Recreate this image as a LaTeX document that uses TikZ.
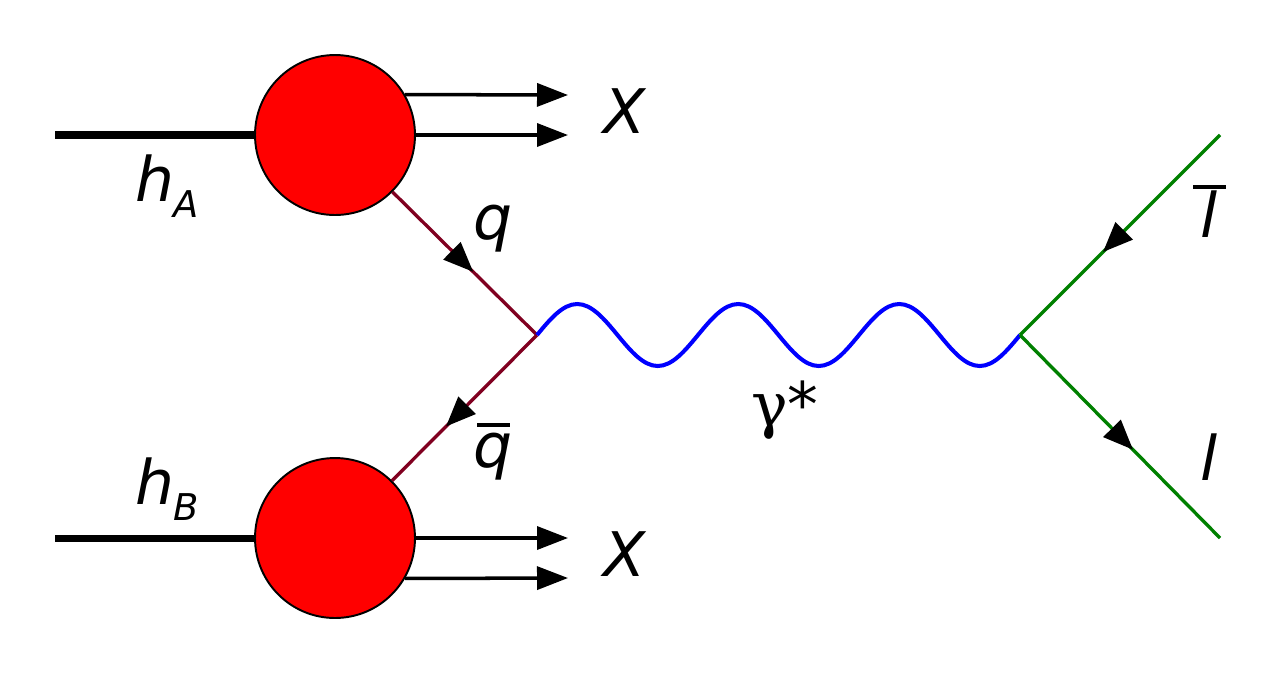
\documentclass[tikz,border=0pt]{standalone}
\usepackage{fontspec}
\setmainfont{DejaVu Sans}
\newfontfamily\gfont{DejaVu Serif}
\usetikzlibrary{arrows.meta,decorations.markings}
\definecolor{quarkred}{RGB}{128,0,32}
\definecolor{leptongreen}{RGB}{0,128,0}
\newcommand\barredtext[2]{\leavevmode\rlap{\raisebox{#1}{\rule{0.66cm}{0.08cm}}}\hbox to 0.66cm{\hss#2\hss}}
\begin{document}
\begin{tikzpicture}[x=0.02cm,y=-0.02cm,
  blob/.style={circle,draw=black,line width=1.1pt,fill=red,minimum size=3.2cm,inner sep=0pt},
  hadron/.style={line width=4pt},
  remnant/.style={line width=2pt,-{Triangle[length=0.62cm,width=0.46cm]}},
  quark/.style={draw=quarkred,line width=1.9pt},
  lepton/.style={draw=leptongreen,line width=1.9pt},
  photon/.style={draw=blue,line width=2.3pt},
  tipat/.style={postaction={decorate},decoration={markings,mark=at position #1 with {\arrow{Triangle[length=0.6cm,width=0.48cm,color=black]}}}},
  lbl/.style={font=\fontsize{35}{42}\selectfont\itshape,inner sep=0pt,outer sep=0pt,anchor=base west},
]
\useasboundingbox (0,0) rectangle (1280,674);
% blobs
\node[blob] (A) at (335,135) {};
\node[blob] (B) at (335,538) {};
% coordinates
\coordinate (hA) at (55,135);
\coordinate (hB) at (55,538);
\coordinate (v1) at (537,335);
\coordinate (v2) at (1020,335);
\coordinate (lbarend) at (1220,135);
\coordinate (lend) at (1220,538);
\coordinate (xa1) at (568,95);
\coordinate (xa2) at (568,135);
\coordinate (xb1) at (568,538);
\coordinate (xb2) at (568,578);
% hadrons
\draw[hadron] (hA) -- (A);
\draw[hadron] (hB) -- (B);
% remnants
\draw[remnant] (A.30) -- (xa1);
\draw[remnant] (A.east) -- (xa2);
\draw[remnant] (B.east) -- (xb1);
\draw[remnant] (B.-30) -- (xb2);
% quarks
\draw[quark,tipat=0.56] (A) -- (v1);
\draw[quark,tipat=0.63] (v1) -- (B);
% photon
\draw[photon] (v1)
  sin ++(40.25,-31) cos ++(40.25,31) sin ++(40.25,31) cos ++(40.25,-31)
  sin ++(40.25,-31) cos ++(40.25,31) sin ++(40.25,31) cos ++(40.25,-31)
  sin ++(40.25,-31) cos ++(40.25,31) sin ++(40.25,31) cos ++(40.25,-31);
% leptons
\draw[lepton,tipat=0.585] (lbarend) -- (v2);
\draw[lepton,tipat=0.565] (v2) -- (lend);
% labels
\node[lbl] (XA) at (603,133) {X};
\node[lbl] (XB) at (603,576) {X};
\node[lbl] (hAlbl) at (135,201) {h\raisebox{-0.32cm}{\fontsize{21}{25}\selectfont A}};
\node[lbl] (hBlbl) at (135,504) {h\raisebox{-0.32cm}{\fontsize{21}{25}\selectfont B}};
\node[lbl] (qlbl) at (473,239) {q};
\node[lbl] (qbarlbl) at (477,467) {\barredtext{0.8cm}{q}};
\node[lbl] (lbarlbl) at (1193,237) {\barredtext{0.96cm}{l}};
\node[lbl] (llbl) at (1193,480) {\hbox to 0.66cm{\hss l\hss}};
\node[lbl] (glbl) at (751,426) {{\upshape\gfont γ}\upshape *};
\end{tikzpicture}
\end{document}
